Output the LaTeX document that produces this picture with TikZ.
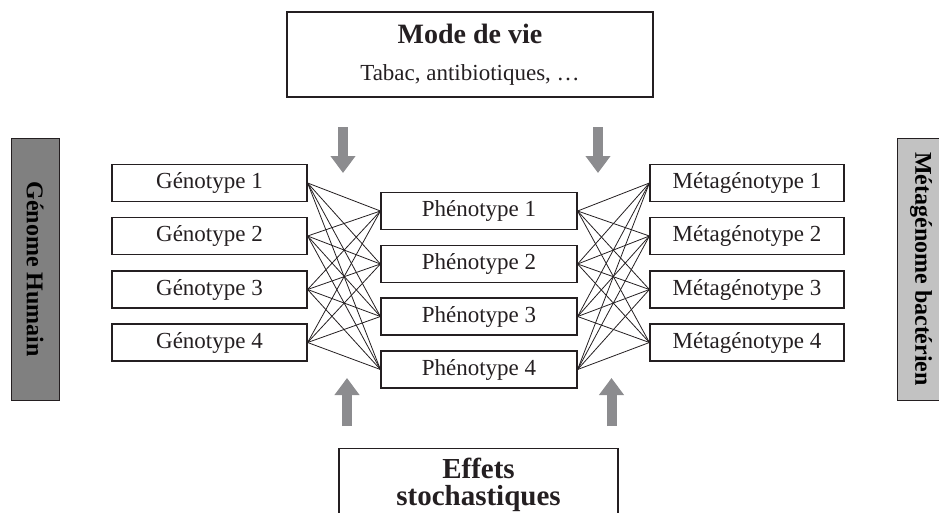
\documentclass[tikz,border=0pt]{standalone}
\usepackage{fontspec}
\setmainfont{Liberation Serif}
\usetikzlibrary{arrows.meta}
\usetikzlibrary{positioning}
\definecolor{mink}{rgb}{0.14, 0.12, 0.13}
\definecolor{mdark}{rgb}{0.5, 0.5, 0.5}
\definecolor{mlight}{rgb}{0.76, 0.76, 0.76}
\definecolor{marrow}{rgb}{0.55, 0.55, 0.56}
\tikzset{typebox/.style = {draw = mink, line width = 1.2, minimum height = 37, inner sep = 0, text = mink, font = \fontsize{23}{26}\selectfont}}
\tikzset{sidebar/.style = {draw = mink, line width = 1, rotate = -90, minimum width = 262, minimum height = 48, inner sep = 0, text = black, font = \fontsize{24}{26}\selectfont\bfseries}}
\tikzset{bigbox/.style = {draw = mink, line width = 1.2, text = mink, align = center}}
\tikzset{fatarrow/.style = {marrow, line width = 10, -{Triangle[width = 24, length = 17]}}}

\begin{document}
\begin{tikzpicture}[x = 1pt, y = -1pt]
      \useasboundingbox (0, 0) rectangle (939, 512);

      % side bars
      \node [sidebar, fill = mdark] (human) at (35, 269) {Génome Humain};
      \node [sidebar, fill = mlight] (bact) at (921, 269) {Métagénome bactérien};

      % three columns
      \foreach \i/\y in {1/183, 2/236, 3/289.5, 4/342.5} {
        \node [typebox, minimum width = 195] (g\i) at (209.5, \y) {Génotype \i};
        \node [typebox, minimum width = 194] (m\i) at (747, \y) {Métagénotype \i};
      }
      \foreach \i/\y in {1/211, 2/264, 3/316.5, 4/369.5}
        \node [typebox, minimum width = 196] (p\i) at (479, \y) {Phénotype \i};

      \foreach \i in {1, ..., 4}
        \foreach \j in {1, ..., 4} {
          \draw [mink, line width = 0.8] (g\i.east) -- (p\j.west);
          \draw [mink, line width = 0.8] (p\i.east) -- (m\j.west);
        }

      % top and bottom boxes
      \node [bigbox, minimum width = 366, minimum height = 85, font = \fontsize{23}{37}\selectfont] (life) at (470, 54.5)
        {{\fontsize{28}{37}\selectfont\bfseries Mode de vie}\\Tabac, antibiotiques, …};
      \node [bigbox, minimum width = 279, anchor = north, inner ysep = 9, font = \fontsize{29}{27}\selectfont\bfseries] (stoch) at (478.5, 448)
        {Effets\\stochastiques};

      % grey arrows
      \coordinate (lifeA) at (343, 127);
      \coordinate (lifeB) at (598, 127);
      \coordinate (phenA) at (343, 173);
      \coordinate (phenB) at (598, 173);
      \coordinate (stochA) at (347, 426);
      \coordinate (stochB) at (611.5, 426);
      \coordinate (upA) at (347, 378);
      \coordinate (upB) at (611.5, 378);
      \draw [fatarrow] (lifeA) -- (phenA);
      \draw [fatarrow] (lifeB) -- (phenB);
      \draw [fatarrow] (stochA) -- (upA);
      \draw [fatarrow] (stochB) -- (upB);
    \end{tikzpicture}
\end{document}
